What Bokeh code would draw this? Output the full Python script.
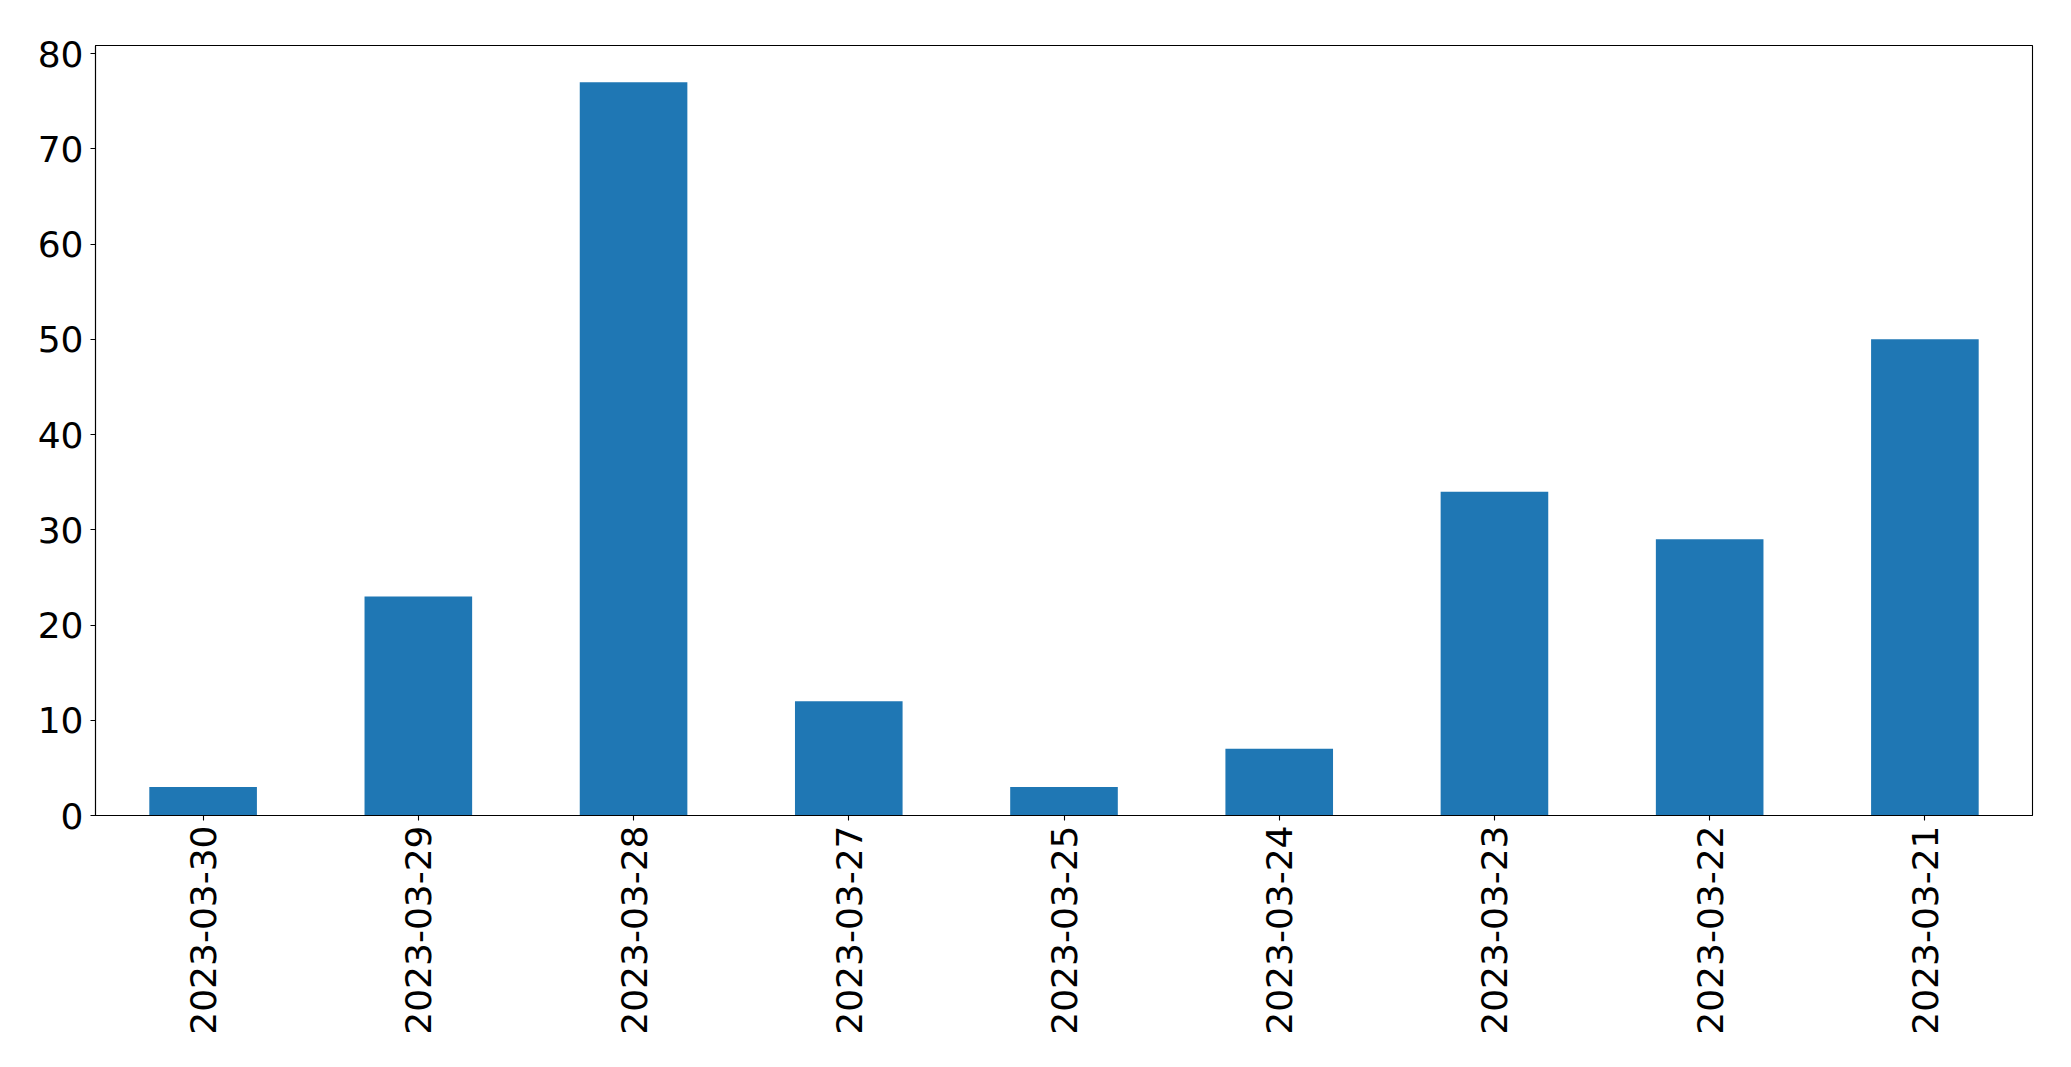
import math
from bokeh.plotting import figure
from bokeh.models import Range1d, FixedTicker, ColumnDataSource
from bokeh.embed import file_html
from bokeh.resources import INLINE

dates = ["2023-03-30", "2023-03-29", "2023-03-28", "2023-03-27", "2023-03-25",
         "2023-03-24", "2023-03-23", "2023-03-22", "2023-03-21"]
counts = [3, 23, 77, 12, 3, 7, 34, 29, 50]
y_ticks = [0, 10, 20, 30, 40, 50, 60, 70, 80]

src = ColumnDataSource(dict(date=dates, count=counts))

p = figure(x_range=dates, y_range=Range1d(0, max(counts) * 1.05),
           width=2055, height=1051, output_backend="svg", toolbar_location=None,
           min_border_left=95, min_border_right=23, min_border_top=45, min_border_bottom=236)
p.x_range.range_padding = 0
p.vbar(x="date", top="count", width=0.5, source=src, color="#1f77b4", line_color=None)

p.xgrid.visible = False
p.ygrid.visible = False
p.outline_line_color = "black"
p.outline_line_width = 1.1
p.outline_line_alpha = 1

p.yaxis.ticker = FixedTicker(ticks=y_ticks)
p.yaxis.minor_tick_line_color = None
for ax in (p.xaxis, p.yaxis):
    ax.axis_line_color = "black"
    ax.axis_line_width = 1.1
    ax.major_tick_line_color = "black"
    ax.major_tick_line_width = 1.1
    ax.major_tick_out = 5
    ax.major_tick_in = 0
    ax.major_label_text_font = "DejaVu Sans"
    ax.major_label_text_font_size = "36px"
    ax.major_label_text_color = "black"
p.xaxis.major_label_standoff = 5
p.yaxis.major_label_standoff = 7
p.xaxis.major_label_orientation = math.pi / 2
p.xaxis.group_text_font_size = "0px"

open("out.html", "w").write(file_html(p, INLINE))
